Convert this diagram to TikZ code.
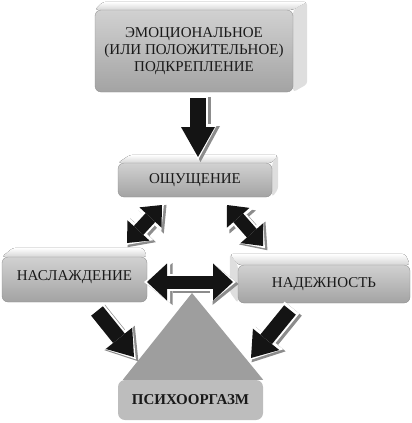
\documentclass[tikz,border=0pt]{standalone}
\usepackage{fontspec}
\setmainfont{Liberation Serif}
\usetikzlibrary{arrows.meta}
\pgfdeclarelayer{back}
\pgfsetlayers{back,main}
\tikzset{
    box/.style={rounded corners=6pt, top color=black!18, bottom color=black!36, draw=black!45, line width=0.3pt,
        text=black!90, align=center, inner sep=0pt, font=\fontsize{15}{17}\selectfont},
    topface/.style={rounded corners=3pt, top color=white, bottom color=black!16},
    sideface/.style={rounded corners=3pt, fill=black!13},
    tipsize/.code args={#1/#2/#3}{\def\shaftw{#1}\def\tipl{#2}\def\tipw{#3}%
        \pgfmathsetmacro\rimw{#1+4}\pgfmathsetmacro\riml{#2+6}\pgfmathsetmacro\rimtw{#3+5}},
    arrowshadow/.style={black!45, transform canvas={xshift=2.5pt, yshift=-2pt}, line width=\rimw pt,
        >={Triangle[length=\riml pt, width=\rimtw pt, line width=0pt]}, shorten >=-3pt, shorten <=-3pt},
    arrowrim/.style={white, line width=\rimw pt,
        >={Triangle[length=\riml pt, width=\rimtw pt, line width=0pt]}, shorten >=-3pt, shorten <=-3pt},
    arrowcore/.style={black!92, line width=\shaftw pt,
        >={Triangle[length=\tipl pt, width=\tipw pt, line width=0pt]}}
}
\begin{document}
\begin{tikzpicture}[x=1pt, y=-1pt]
    \useasboundingbox (0,0) rectangle (412,423);
    % front faces
    \node[box, minimum width=198pt, minimum height=82pt] (emotion) at (194,51)
        {ЭМОЦИОНАЛЬНОЕ\\(ИЛИ ПОЛОЖИТЕЛЬНОЕ)\\ПОДКРЕПЛЕНИЕ};
    \node[box, minimum width=154pt, minimum height=34pt] (feel) at (195,180) {\raisebox{1pt}{ОЩУЩЕНИЕ}};
    \node[box, minimum width=145pt, minimum height=45pt] (pleasure) at (74.5,279.5) {\raisebox{7pt}{НАСЛАЖДЕНИЕ}};
    \node[box, minimum width=172pt, minimum height=38pt] (trust) at (324,284) {\raisebox{3pt}{НАДЕЖНОСТЬ}};
    \node[fill=black!26, rounded corners=7pt, minimum width=145pt, minimum height=40pt, inner sep=0pt,
        text=black!90, font=\bfseries\fontsize{15}{17}\selectfont] (orgasm) at (190.5,400) {ПСИХООРГАЗМ};
    \coordinate (apex) at (192,293);
    % tops and sides
    \begin{pgfonlayer}{back}
        \fill[topface] (emotion.north west) -- ++(8,-8) -- ([shift={(14,-8)}]emotion.north east) -- (emotion.north east) -- cycle;
        \fill[sideface] (emotion.north east) -- ++(14,-8) -- ([shift={(14,-8)}]emotion.south east) -- (emotion.south east) -- cycle;
        \fill[topface] (feel.north west) -- ++(12,-8) -- ([shift={(6,-8)}]feel.north east) -- (feel.north east) -- cycle;
        \fill[sideface] (feel.north east) -- ++(6,-8) -- ([shift={(6,-8)}]feel.south east) -- (feel.south east) -- cycle;
        \fill[topface] (pleasure.north west) -- ++(11,-9) -- ([shift={(-4,-9)}]pleasure.north east) -- (pleasure.north east) -- cycle;
        \fill[topface] (trust.north west) -- ++(-8,-11) -- ([shift={(-5,-11)}]trust.north east) -- (trust.north east) -- cycle;
        \fill[sideface] (trust.north west) -- ++(-8,-11) -- ([shift={(-8,-11)}]trust.south west) -- (trust.south west) -- cycle;
        \fill[black!38] ([xshift=5pt]orgasm.north west) -- (apex) -- (orgasm.north east) -- cycle;
    \end{pgfonlayer}
    % arrow ends
    \coordinate (a1) at (198,98);
    \coordinate (a2) at (198,157);
    \coordinate (b1) at (162,205);
    \coordinate (b2) at (127,243);
    \coordinate (c1) at (227,205);
    \coordinate (c2) at (263,246);
    \coordinate (d1) at (147,282);
    \coordinate (d2) at (233,282);
    \coordinate (e1) at (97,311);
    \coordinate (e2) at (134,357);
    \coordinate (f1) at (290,310);
    \coordinate (f2) at (251,358);
    \foreach \pass in {arrowshadow,arrowrim,arrowcore}{
        \draw[tipsize=16/30/34, \pass, ->] (a1) -- (a2);
        \draw[tipsize=13/17/30, \pass, <->] (b1) -- (b2);
        \draw[tipsize=13/17/30, \pass, <->] (c1) -- (c2);
        \draw[tipsize=13/20/37, \pass, <->] (d1) -- (d2);
        \draw[tipsize=15/24/34, \pass, ->] (e1) -- (e2);
        \draw[tipsize=15/24/34, \pass, ->] (f1) -- (f2);
    }
\end{tikzpicture}
\end{document}
